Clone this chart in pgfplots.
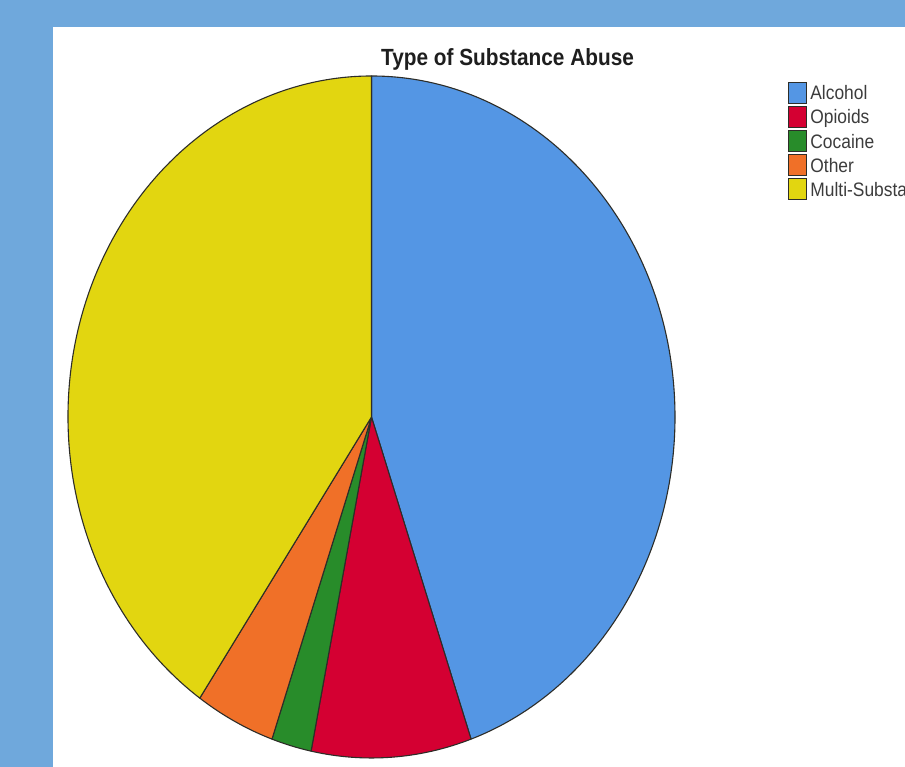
\documentclass[border=0pt]{standalone}
\usepackage{fontspec}
\setmainfont{Liberation Sans}
\usepackage{graphicx}
\usepackage{pgfplots}
\usepackage{pgfplotstable}
\pgfplotsset{compat=1.18}
\definecolor{frame}{RGB}{111,168,220}
\definecolor{cAlc}{RGB}{84,150,228}
\definecolor{cOpi}{RGB}{212,0,50}
\definecolor{cCoc}{RGB}{40,140,42}
\definecolor{cOth}{RGB}{240,112,40}
\definecolor{cMul}{RGB}{226,214,16}
\definecolor{edge}{RGB}{45,45,40}
\definecolor{ltext}{RGB}{60,60,60}
\definecolor{ttext}{RGB}{30,30,30}

\pgfplotstableread{
label count color
Alcohol 21 cAlc
Opioids 4 cOpi
Cocaine 1 cCoc
Other 2 cOth
Multi-Substance 19 cMul
}\piedata

\begin{document}
\begin{tikzpicture}
\useasboundingbox (0,0) rectangle (905pt,767pt);
\clip (0,0) rectangle (905pt,767pt);
\fill[frame] (0,0) rectangle (905pt,767pt);
\fill[white] (53pt,0) rectangle (905pt,740pt);
\begin{axis}[
  at={(0,0)}, anchor=south west,
  scale only axis, width=905pt, height=767pt,
  xmin=0, xmax=905, ymin=0, ymax=767,
  hide axis, clip=false,
  every axis title shift=0pt,
  title={\scalebox{1}[1.125]{\bfseries\fontsize{20.8}{24}\selectfont Type of Substance Abuse}},
  title style={at={(0.5608,0.9140)}, anchor=base, yshift=0pt, inner sep=0pt, text=ttext},
  legend image code/.code={\draw[#1, draw=edge, line width=0.7pt] (0pt,-8.9pt) rectangle (18pt,12.1pt);},
  legend style={at={(0.8707,0.8935)}, anchor=north west, draw=none, fill=none,
    inner sep=0pt, row sep=2.4pt, column sep=3.5pt,
    nodes={inner sep=0pt, text height=14pt, text depth=3pt, text=ltext},
    font=\fontsize{17.4}{18}\selectfont},
  legend cell align=left,
]
\def\cum{0}
\pgfplotsforeachungrouped \i in {0,...,4}{%
  \pgfplotstablegetelem{\i}{count}\of\piedata \let\v\pgfplotsretval
  \pgfplotstablegetelem{\i}{color}\of\piedata \let\c\pgfplotsretval
  \pgfmathsetmacro\sa{90-\cum/47*360}%
  \pgfmathsetmacro\cum{\cum+\v}%
  \pgfmathsetmacro\ea{90-\cum/47*360}%
  \edef\slice{\noexpand\filldraw[fill=\c, draw=edge, line width=1.1pt, line join=round] (axis cs:371.5,350) -- +(\sa:303.5pt and 341pt) arc[start angle=\sa, end angle=\ea, x radius=303.5pt, y radius=341pt] -- cycle;}%
  \slice
}
\addlegendimage{fill=cAlc}\addlegendentry{\scalebox{1}[1.12]{Alcohol}}
\addlegendimage{fill=cOpi}\addlegendentry{\scalebox{1}[1.12]{Opioids}}
\addlegendimage{fill=cCoc}\addlegendentry{\scalebox{1}[1.12]{Cocaine}}
\addlegendimage{fill=cOth}\addlegendentry{\scalebox{1}[1.12]{Other}}
\addlegendimage{fill=cMul}\addlegendentry{\scalebox{1}[1.12]{Multi-Substance}}
\end{axis}
\end{tikzpicture}
\end{document}
